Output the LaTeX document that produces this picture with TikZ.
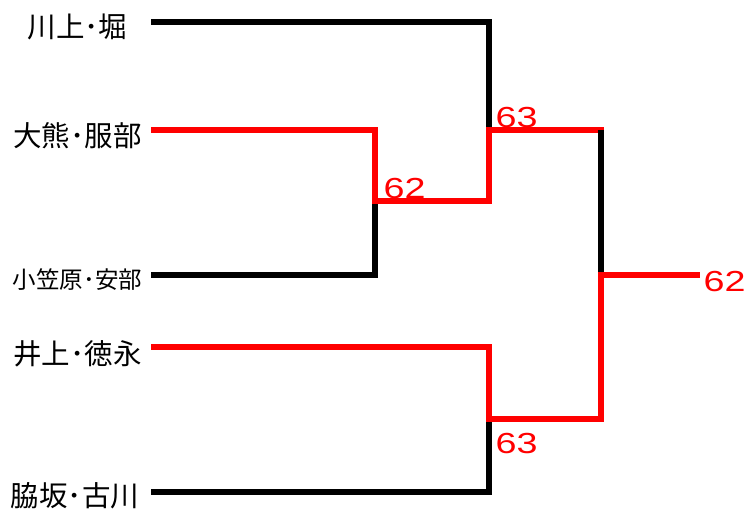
\documentclass[tikz,border=0pt]{standalone}
\usepackage{fontspec}
\newfontfamily\jp{Noto Sans CJK JP}
\newfontfamily\num[FakeStretch=1.3]{Liberation Sans}
\definecolor{wred}{RGB}{255,0,0}
\begin{document}
\begin{tikzpicture}[x=1pt,y=-1pt, line width=6pt, line join=miter, line cap=butt,
  player/.style={font=\jp\fontsize{28.5}{29}\selectfont, inner sep=0pt},
  playersmall/.style={font=\jp\fontsize{23.5}{24}\selectfont, inner sep=0pt},
  score/.style={font=\num\fontsize{29}{29}\selectfont, text=wred, inner sep=0pt},
  win/.style={draw=wred}, lose/.style={draw=black}]
\useasboundingbox (0,0) rectangle (749,516);
% names
\node[player] (t1) at (77.5,26.5) {川上･堀};
\node[player] (t2) at (77.5,136) {大熊･服部};
\node[playersmall] (t3) at (77.5,279.5) {小笠原･安部};
\node[player] (t4) at (77.5,354) {井上･徳永};
\node[player] (t5) at (75,496) {脇坂･古川};
% coordinates
\coordinate (a1) at (151,22);
\coordinate (a2) at (151,130);
\coordinate (a3) at (151,275);
\coordinate (a4) at (151,347);
\coordinate (a5) at (151,492);
\coordinate (j1) at (375,201);
\coordinate (j2) at (489,130);
\coordinate (j3) at (489,419);
\coordinate (j4) at (601,275);
\coordinate (f1) at (601,130);
\coordinate (f1e) at (604,130);
\coordinate (fin) at (700,275);
% losers
\draw[lose] (a1) -| (j2);
\draw[lose] (a3) -| (j1);
\draw[lose] (a5) -| (j3);
% winners
\draw[win] (a2) -| (j1) -| (j2) -- (f1e);
\draw[lose] (f1) -- (j4);
\draw[win] (a4) -| (j3) -| (j4) -- (fin);
% scores
\node[score] (s1) at (516.5,118) {63};
\node[score] (s2) at (404.5,189) {62};
\node[score] (s3) at (516.5,443.5) {63};
\node[score] (s4) at (724.5,281.5) {62};
\end{tikzpicture}
\end{document}
